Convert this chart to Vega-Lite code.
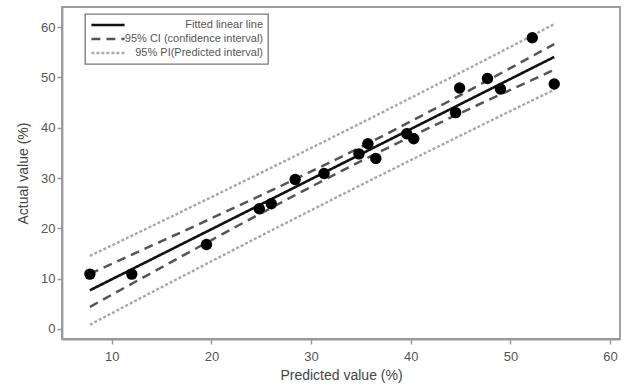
{
  "$schema": "https://vega.github.io/schema/vega-lite/v6.json",
  "width": 558,
  "height": 332,
  "autosize": {"type": "none"},
  "padding": {"left": 62, "top": 7, "right": 8, "bottom": 51},
  "background": "white",
  "config": {
    "font": "Liberation Sans",
    "view": {"stroke": "#999", "strokeWidth": 1.8},
    "axis": {
      "domainColor": "#999", "domainWidth": 1.8,
      "tickColor": "#999", "tickWidth": 1.5, "tickSize": 5,
      "labelColor": "#555", "labelFontSize": 13, "labelFont": "Liberation Sans",
      "titleColor": "#444", "titleFontSize": 14, "titleFontWeight": "normal", "titleFont": "Liberation Sans",
      "grid": false
    },
    "legend": {
      "orient": "none", "legendX": 23, "legendY": 7,
      "fillColor": "white", "strokeColor": "#777", "strokeWidth": 1.3,
      "padding": 5, "labelAlign": "right", "labelOffset": 137, "labelLimit": 300,
      "labelFontSize": 11, "labelColor": "#555", "symbolSize": 1100, "rowPadding": 2,
      "clipHeight": 12
    }
  },
  "datasets": {
    "points": [
      {"pred": 7.8, "actual": 10.9}, {"pred": 12.0, "actual": 10.9}, {"pred": 19.5, "actual": 16.8},
      {"pred": 24.8, "actual": 23.9}, {"pred": 26.0, "actual": 24.9}, {"pred": 28.4, "actual": 29.7},
      {"pred": 31.3, "actual": 30.9}, {"pred": 34.8, "actual": 34.8}, {"pred": 35.7, "actual": 36.8},
      {"pred": 36.5, "actual": 33.9}, {"pred": 39.6, "actual": 38.8}, {"pred": 40.3, "actual": 37.8},
      {"pred": 44.5, "actual": 43.0}, {"pred": 44.9, "actual": 47.9}, {"pred": 47.7, "actual": 49.8},
      {"pred": 49.0, "actual": 47.7}, {"pred": 52.2, "actual": 57.9}, {"pred": 54.4, "actual": 48.7}
    ],
    "lines": [
      {"series": "Fitted linear line", "line": "fit", "x": 7.8, "y": 7.68},
      {"series": "Fitted linear line", "line": "fit", "x": 54.4, "y": 54.07},
      {"series": "95% CI (confidence interval)", "line": "ci_lo", "x": 7.8, "y": 4.39},
      {"series": "95% CI (confidence interval)", "line": "ci_lo", "x": 10, "y": 6.80},
      {"series": "95% CI (confidence interval)", "line": "ci_lo", "x": 15, "y": 12.25},
      {"series": "95% CI (confidence interval)", "line": "ci_lo", "x": 20, "y": 17.67},
      {"series": "95% CI (confidence interval)", "line": "ci_lo", "x": 25, "y": 23.02},
      {"series": "95% CI (confidence interval)", "line": "ci_lo", "x": 30, "y": 28.26},
      {"series": "95% CI (confidence interval)", "line": "ci_lo", "x": 35, "y": 33.35},
      {"series": "95% CI (confidence interval)", "line": "ci_lo", "x": 40, "y": 38.22},
      {"series": "95% CI (confidence interval)", "line": "ci_lo", "x": 45, "y": 42.92},
      {"series": "95% CI (confidence interval)", "line": "ci_lo", "x": 50, "y": 47.52},
      {"series": "95% CI (confidence interval)", "line": "ci_lo", "x": 54.4, "y": 51.52},
      {"series": "95% CI (confidence interval)", "line": "ci_hi", "x": 7.8, "y": 10.97},
      {"series": "95% CI (confidence interval)", "line": "ci_hi", "x": 10, "y": 12.94},
      {"series": "95% CI (confidence interval)", "line": "ci_hi", "x": 15, "y": 17.45},
      {"series": "95% CI (confidence interval)", "line": "ci_hi", "x": 20, "y": 21.99},
      {"series": "95% CI (confidence interval)", "line": "ci_hi", "x": 25, "y": 26.60},
      {"series": "95% CI (confidence interval)", "line": "ci_hi", "x": 30, "y": 31.30},
      {"series": "95% CI (confidence interval)", "line": "ci_hi", "x": 35, "y": 36.17},
      {"series": "95% CI (confidence interval)", "line": "ci_hi", "x": 40, "y": 41.26},
      {"series": "95% CI (confidence interval)", "line": "ci_hi", "x": 45, "y": 46.50},
      {"series": "95% CI (confidence interval)", "line": "ci_hi", "x": 50, "y": 51.86},
      {"series": "95% CI (confidence interval)", "line": "ci_hi", "x": 54.4, "y": 56.62},
      {"series": "95% PI(Predicted interval)", "line": "pi_lo", "x": 7.8, "y": 0.84},
      {"series": "95% PI(Predicted interval)", "line": "pi_lo", "x": 10, "y": 3.13},
      {"series": "95% PI(Predicted interval)", "line": "pi_lo", "x": 15, "y": 8.31},
      {"series": "95% PI(Predicted interval)", "line": "pi_lo", "x": 20, "y": 13.45},
      {"series": "95% PI(Predicted interval)", "line": "pi_lo", "x": 25, "y": 18.55},
      {"series": "95% PI(Predicted interval)", "line": "pi_lo", "x": 30, "y": 23.59},
      {"series": "95% PI(Predicted interval)", "line": "pi_lo", "x": 35, "y": 28.60},
      {"series": "95% PI(Predicted interval)", "line": "pi_lo", "x": 40, "y": 33.55},
      {"series": "95% PI(Predicted interval)", "line": "pi_lo", "x": 45, "y": 38.45},
      {"series": "95% PI(Predicted interval)", "line": "pi_lo", "x": 50, "y": 43.31},
      {"series": "95% PI(Predicted interval)", "line": "pi_lo", "x": 54.4, "y": 47.55},
      {"series": "95% PI(Predicted interval)", "line": "pi_hi", "x": 7.8, "y": 14.52},
      {"series": "95% PI(Predicted interval)", "line": "pi_hi", "x": 10, "y": 16.61},
      {"series": "95% PI(Predicted interval)", "line": "pi_hi", "x": 15, "y": 21.39},
      {"series": "95% PI(Predicted interval)", "line": "pi_hi", "x": 20, "y": 26.21},
      {"series": "95% PI(Predicted interval)", "line": "pi_hi", "x": 25, "y": 31.07},
      {"series": "95% PI(Predicted interval)", "line": "pi_hi", "x": 30, "y": 35.97},
      {"series": "95% PI(Predicted interval)", "line": "pi_hi", "x": 35, "y": 40.92},
      {"series": "95% PI(Predicted interval)", "line": "pi_hi", "x": 40, "y": 45.93},
      {"series": "95% PI(Predicted interval)", "line": "pi_hi", "x": 45, "y": 50.97},
      {"series": "95% PI(Predicted interval)", "line": "pi_hi", "x": 50, "y": 56.07},
      {"series": "95% PI(Predicted interval)", "line": "pi_hi", "x": 54.4, "y": 60.59}
    ]
  },
  "layer": [
    {
      "data": {"name": "lines"},
      "mark": {"type": "line", "interpolate": "monotone"},
      "encoding": {
        "x": {"field": "x", "type": "quantitative", "scale": {"domain": [5, 61], "nice": false, "zero": false},
              "axis": {"values": [10, 20, 30, 40, 50, 60], "title": "Predicted value (%)", "labelPadding": 6, "titlePadding": 5}},
        "y": {"field": "y", "type": "quantitative", "scale": {"domain": [-2, 64], "nice": false, "zero": false},
              "axis": {"values": [0, 10, 20, 30, 40, 50, 60], "title": "Actual value (%)", "labelPadding": 2, "titlePadding": 10}},
        "detail": {"field": "line"},
        "color": {"field": "series", "type": "nominal",
                  "scale": {"domain": ["Fitted linear line", "95% CI (confidence interval)", "95% PI(Predicted interval)"], "range": ["#111111", "#555555", "#a8a8a8"]},
                  "legend": {"title": null}},
        "strokeDash": {"field": "series", "type": "nominal",
                  "scale": {"domain": ["Fitted linear line", "95% CI (confidence interval)", "95% PI(Predicted interval)"], "range": [[1, 0], [9, 6], [3, 2]]},
                  "legend": {"title": null}},
        "strokeWidth": {"field": "series", "type": "nominal",
                  "scale": {"domain": ["Fitted linear line", "95% CI (confidence interval)", "95% PI(Predicted interval)"], "range": [2.6, 2.4, 1.8]},
                  "legend": {"title": null}}
      }
    },
    {
      "data": {"name": "points"},
      "mark": {"type": "circle", "size": 130, "opacity": 1, "color": "#000000"},
      "encoding": {
        "x": {"field": "pred", "type": "quantitative"},
        "y": {"field": "actual", "type": "quantitative"}
      }
    }
  ]
}
